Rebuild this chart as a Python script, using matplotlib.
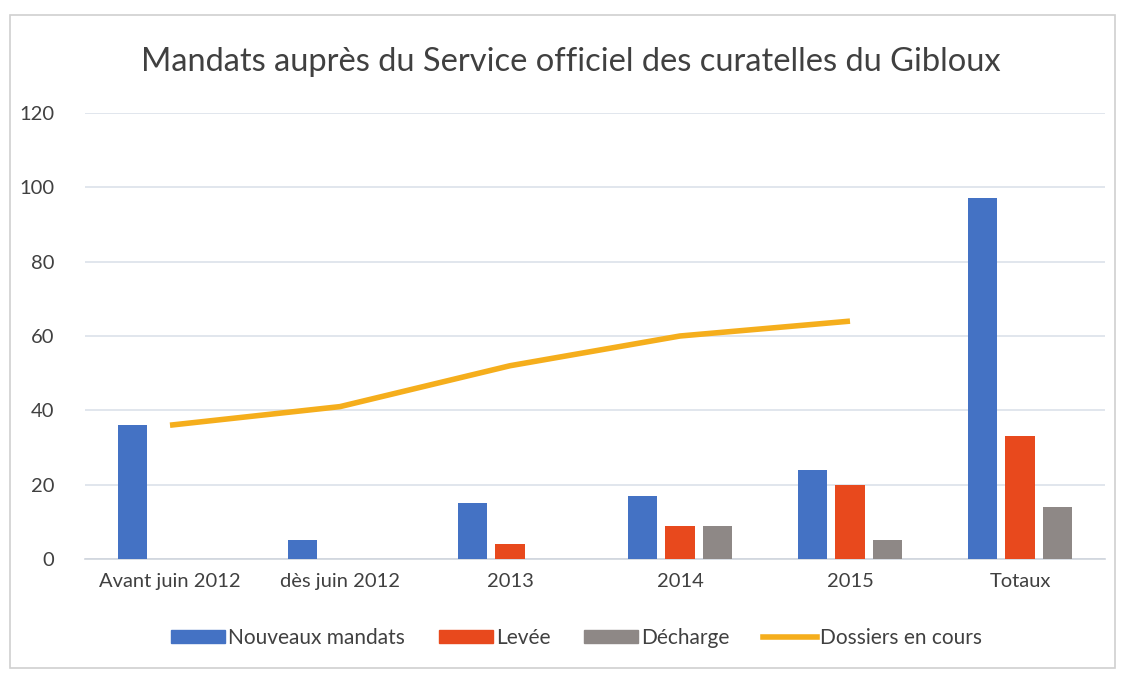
import numpy as np
import matplotlib
matplotlib.use("Agg")
import matplotlib.pyplot as plt
from matplotlib.patches import Rectangle, Patch
from matplotlib.lines import Line2D

plt.rcParams['font.family'] = ['Lato', 'DejaVu Sans']

# data
categories = ["Avant juin 2012", "dès juin 2012", "2013", "2014", "2015", "Totaux"]
nouveaux = [36, 5, 15, 17, 24, 97]
levee = [0, 0, 4, 9, 20, 33]
decharge = [0, 0, 0, 9, 5, 14]
dossiers = [36, 41, 52, 60, 64]   # no value for Totaux

c_blue = "#4472C4"
c_red = "#E8491D"
c_gray = "#8E8886"
c_line = "#F5AE1C"
txt = "#404040"

fig = plt.figure(figsize=(11.24, 6.73), dpi=100)
fig.patch.set_facecolor("white")
fig.patches.append(Rectangle((0.009, 0.008), 0.983, 0.97, transform=fig.transFigure,
                             fill=False, edgecolor="#D0D0D0", linewidth=1.2))

ax = fig.add_axes([85/1124, 1 - 559/673, (1105 - 85)/1124, (559 - 113)/673])

x = np.arange(len(categories))
w = 0.175
off = 0.22
ax.bar(x - off, nouveaux, w, color=c_blue, label="Nouveaux mandats", zorder=3)
ax.bar(x, levee, w, color=c_red, label="Levée", zorder=3)
ax.bar(x + off, decharge, w, color=c_gray, label="Décharge", zorder=3)
ax.plot(x[:len(dossiers)], dossiers, color=c_line, linewidth=4,
        solid_capstyle="butt", label="Dossiers en cours", zorder=4)

ax.set_xlim(-0.5, len(categories) - 0.5)
ax.set_ylim(0, 120)
ax.set_yticks(range(0, 121, 20))
ax.yaxis.grid(True, color="#DCE1EA", linewidth=1.2, zorder=0)
ax.set_axisbelow(True)
for s in ["top", "right", "left"]:
    ax.spines[s].set_visible(False)
ax.spines["bottom"].set_color("#D0D5DD")
ax.spines["bottom"].set_linewidth(1.2)
ax.tick_params(length=0, labelsize=14.5, colors=txt)
ax.tick_params(axis="y", pad=22)
ax.tick_params(axis="x", pad=10)
ax.set_xticks(x)
ax.set_xticklabels(categories)

fig.text(0.508, 1 - 62/673, "Mandats auprès du Service officiel des curatelles du Gibloux",
         ha="center", va="center", fontsize=23.5, color=txt)

handles = [Patch(color=c_blue), Patch(color=c_red), Patch(color=c_gray),
           Line2D([], [], color=c_line, linewidth=4)]
labels = ["Nouveaux mandats", "Levée", "Décharge", "Dossiers en cours"]
fig.legend(handles, labels, loc="center", bbox_to_anchor=(0.513, 1 - 638/673),
           ncol=4, frameon=False, fontsize=15, labelcolor=txt,
           handlelength=2.6, handleheight=0.55, handletextpad=0.15, columnspacing=1.6)

fig.savefig("out.png", dpi=100)
